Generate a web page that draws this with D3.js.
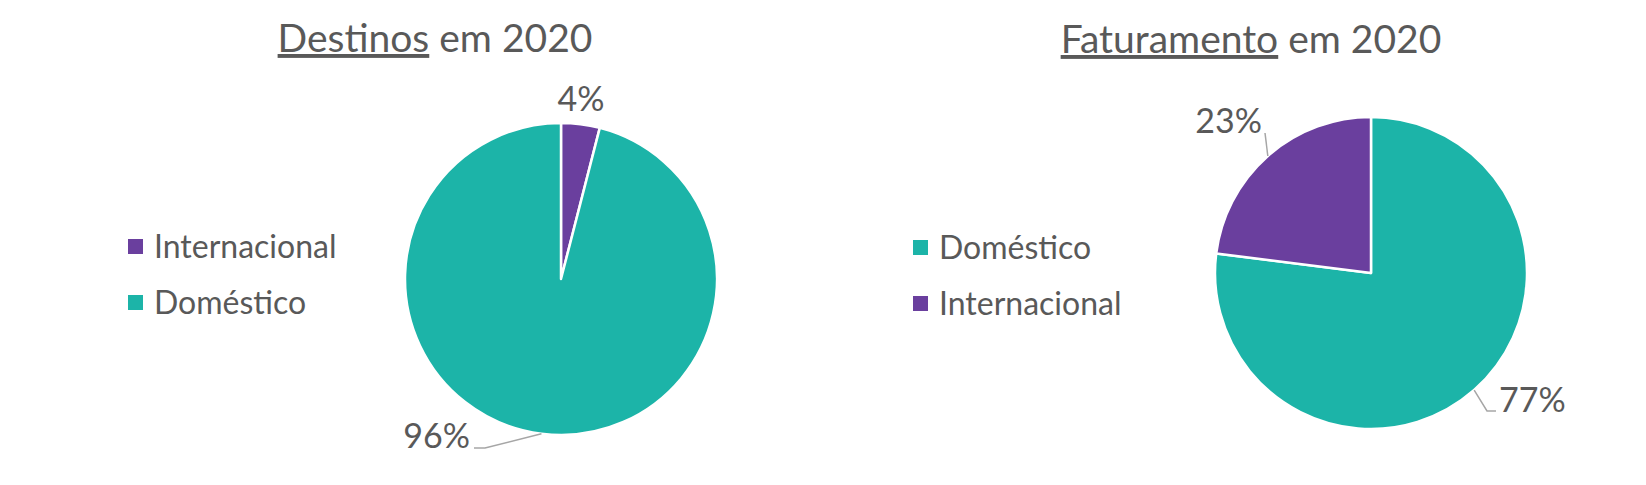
<!DOCTYPE html>
<html>
<head>
<meta charset="utf-8">
<script src="https://cdn.jsdelivr.net/npm/d3@7"></script>
<style>
  html, body { margin: 0; padding: 0; background: #ffffff; }
  svg { display: block; }
  text { font-family: "Lato", "Open Sans", sans-serif; fill: #595959; }
</style>
</head>
<body>
<svg id="chart" width="1646" height="485"></svg>
<script>
// ---- data ----
const destinosCategories = ["Internacional", "Doméstico"];
const destinosValues = [4, 96];
const faturamentoCategories = ["Doméstico", "Internacional"];
const faturamentoValues = [77, 23];

const colorMap = { "Internacional": "#6a3f9e", "Doméstico": "#1cb4a8" };

// ---- layout ----
const charts = [
  {
    titleMain: "Destinos", titleRest: " em 2020", titleX: 435, titleY: 52,
    cx: 561, cy: 279, r: 156,
    legendX: 128, legendY: 239,
    categories: destinosCategories, values: destinosValues,
    labels: [
      { text: [20, -168], anchor: "middle", leader: null },
      { text: [-91, 169], anchor: "end", leader: [[-76, 169], [-87, 169]] }
    ]
  },
  {
    titleMain: "Faturamento", titleRest: " em 2020", titleX: 1251, titleY: 53,
    cx: 1371, cy: 273, r: 156,
    legendX: 913, legendY: 240,
    categories: faturamentoCategories, values: faturamentoValues,
    labels: [
      { text: [128, 139], anchor: "start", leader: [[116, 138], [125, 138]] },
      { text: [-109, -140], anchor: "end", leader: [[-106, -140]] }
    ]
  }
];

const svg = d3.select("#chart");

charts.forEach(c => {
  // title
  const t = svg.append("text")
    .attr("x", c.titleX).attr("y", c.titleY)
    .attr("text-anchor", "middle")
    .style("font-size", "39px");
  t.append("tspan").text(c.titleMain).style("text-decoration", "underline");
  t.append("tspan").text(c.titleRest);

  // pie
  const data = c.categories.map((k, i) => ({ key: k, value: c.values[i] }));
  const total = d3.sum(c.values);
  const pie = d3.pie().sort(null).value(d => d.value);
  const arcs = pie(data);
  const arc = d3.arc().innerRadius(0).outerRadius(c.r);

  const g = svg.append("g").attr("transform", `translate(${c.cx},${c.cy})`);
  g.selectAll("path.slice").data(arcs).join("path")
    .attr("class", "slice")
    .attr("d", arc)
    .attr("fill", d => colorMap[d.data.key])
    .attr("stroke", "#ffffff")
    .attr("stroke-width", 2.5)
    .attr("stroke-linejoin", "round");

  // labels
  arcs.forEach((a, i) => {
    const L = c.labels[i];
    const mid = (a.startAngle + a.endAngle) / 2;
    const edge = [c.r * Math.sin(mid), -c.r * Math.cos(mid)];
    if (L.leader) {
      const pts = [edge].concat(L.leader);
      g.append("path")
        .attr("d", d3.line()(pts))
        .attr("fill", "none")
        .attr("stroke", "#a6a6a6")
        .attr("stroke-width", 1.5);
    }
    g.append("text")
      .attr("x", L.text[0]).attr("y", L.text[1])
      .attr("text-anchor", L.anchor)
      .style("font-size", "34px")
      .text(Math.round(a.data.value / total * 100) + "%");
  });

  // legend
  const lg = svg.append("g").attr("transform", `translate(${c.legendX},${c.legendY})`);
  c.categories.forEach((k, i) => {
    const row = lg.append("g").attr("transform", `translate(0,${i * 56})`);
    row.append("rect").attr("width", 15).attr("height", 15).attr("fill", colorMap[k]);
    row.append("text").attr("x", 26).attr("y", 19)
      .style("font-size", "32px").text(k);
  });
});
</script>
</body>
</html>
